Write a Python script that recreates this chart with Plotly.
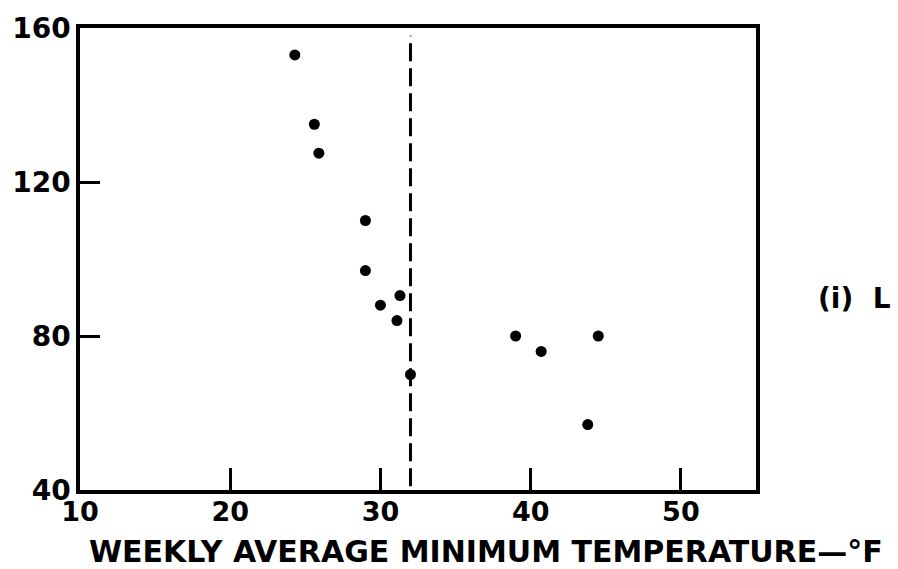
import plotly.graph_objects as go

# Data
temp_f = [24.3, 25.6, 25.9, 29.0, 29.0, 30.0, 31.3, 31.1, 32.0, 39.0, 40.7, 44.5, 43.8]
values = [153, 135, 127.5, 110, 97, 88, 90.5, 84, 70, 80, 76, 80, 57]
freezing = 32
x_ticks = [10, 20, 30, 40, 50]
y_ticks = [40, 80, 120, 160]
x_title = "WEEKLY AVERAGE MINIMUM TEMPERATURE\u2014\u00b0F"
panel_label = "(i)  L"

FONT = "DejaVu Sans"

fig = go.Figure()
fig.add_trace(go.Scatter(
    x=temp_f, y=values, mode="markers",
    marker=dict(color="black", size=11),
    showlegend=False, cliponaxis=False,
))

fig.add_shape(type="line", xref="x", yref="y",
              x0=freezing, x1=freezing, y0=41, y1=158,
              line=dict(color="black", width=3, dash="18px,7px"))

fig.add_annotation(text=panel_label, xref="paper", yref="paper",
                   x=1.202, xanchor="right", y=0.415, showarrow=False,
                   font=dict(family=FONT, size=28, color="black", weight="bold"))

fig.add_annotation(text=x_title, xref="paper", yref="paper",
                   x=0.601, y=-0.133, xanchor="center", yanchor="middle",
                   showarrow=False,
                   font=dict(family=FONT, size=30, color="black", weight="bold"))

fig.update_layout(
    width=898, height=569,
    margin=dict(l=77, r=142, t=25, b=79),
    paper_bgcolor="white", plot_bgcolor="white",
    font=dict(family=FONT, color="black"),
)
fig.update_xaxes(
    range=[10, 55], tickvals=x_ticks, ticktext=[str(v) for v in x_ticks],
    ticks="inside", ticklen=22, tickwidth=2.5, tickcolor="black",
    showline=True, linewidth=3.5, linecolor="black", mirror=True,
    showgrid=False, zeroline=False, ticklabelstandoff=-5,
    tickfont=dict(family=FONT, size=27, color="black", weight="bold"),
)
fig.update_yaxes(
    range=[40, 160], tickvals=y_ticks, ticktext=[str(v) for v in y_ticks],
    ticks="inside", ticklen=20, tickwidth=2.5, tickcolor="black",
    showline=True, linewidth=3.5, linecolor="black", mirror=True,
    showgrid=False, zeroline=False,
    tickfont=dict(family=FONT, size=28, color="black", weight="bold"),
)

fig.write_html("out.html")
